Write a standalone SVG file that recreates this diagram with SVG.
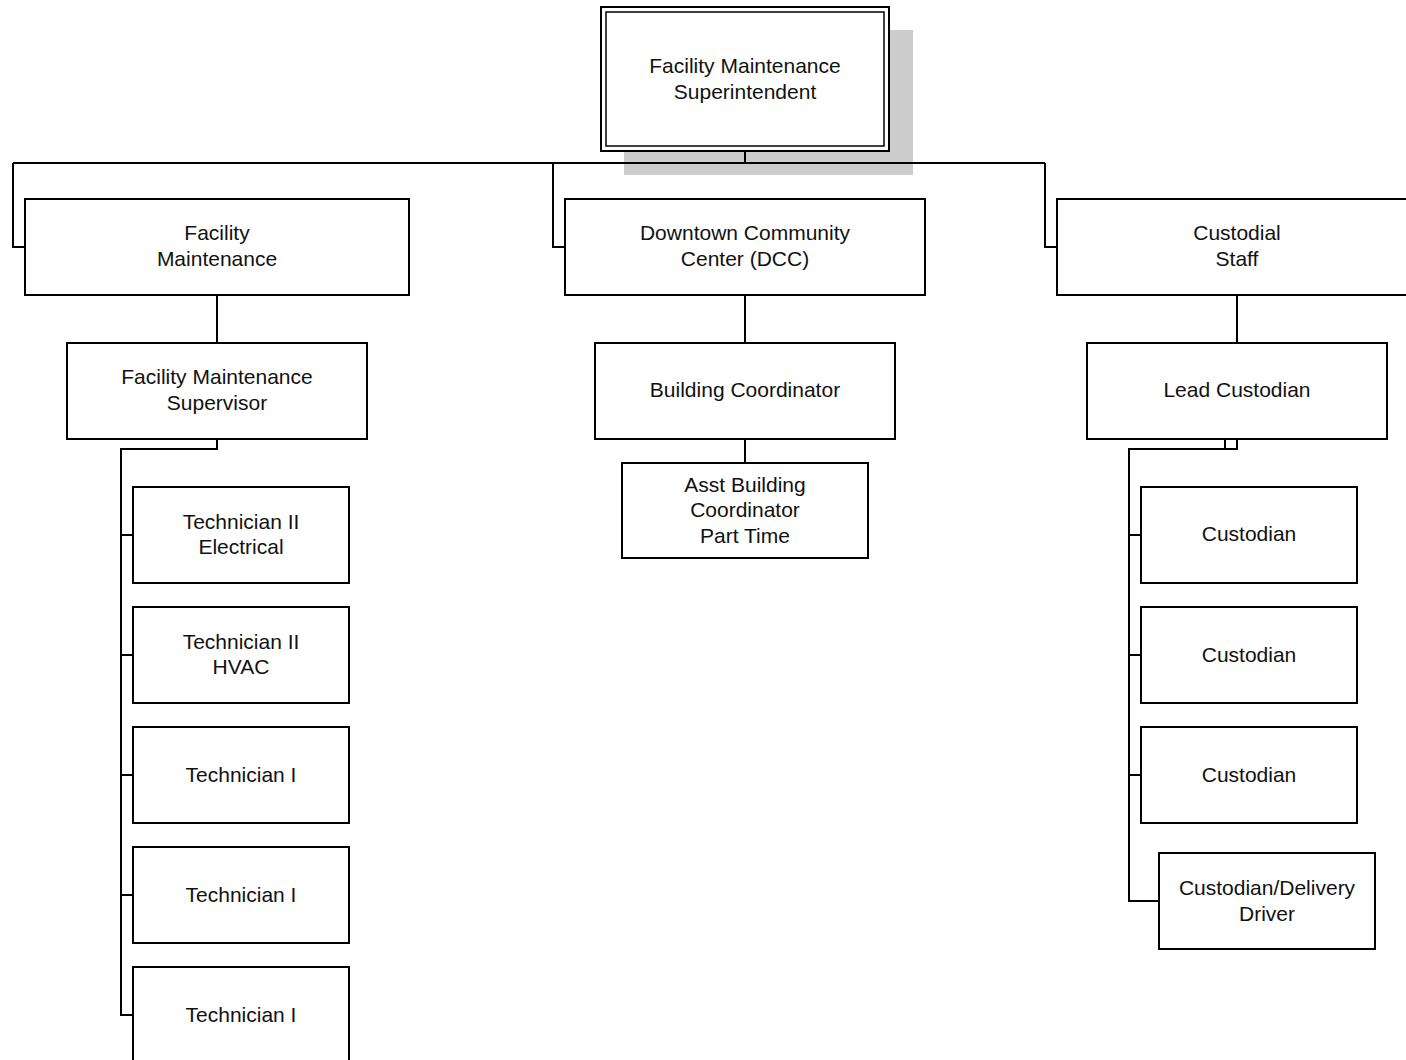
<svg xmlns="http://www.w3.org/2000/svg" width="1406" height="1060" viewBox="0 0 1406 1060">
<style>
.box{fill:#fff;stroke:#000;stroke-width:2}
.ln{fill:none;stroke:#000;stroke-width:2}
text{font-family:"Liberation Sans",Arial,sans-serif;font-size:21px;fill:#111;text-anchor:middle}
</style>
<rect width="1406" height="1060" fill="#fff"/>
<g id="superintendent">
<rect x="624" y="30" width="289" height="145" fill="#cccccc"/>
<rect x="601" y="7" width="288" height="144" fill="#fff" stroke="#000" stroke-width="2"/>
<rect x="606" y="12" width="278" height="134" fill="none" stroke="#000" stroke-width="1.5"/>
<text x="745" y="73">Facility Maintenance</text>
<text x="745" y="99">Superintendent</text>
</g>
<g id="connectors">
<line class="ln" x1="745" y1="151" x2="745" y2="163"/>
<line class="ln" x1="13" y1="163" x2="1045" y2="163"/>
<polyline class="ln" points="13,163 13,247 25,247"/>
<polyline class="ln" points="553,163 553,247 565,247"/>
<polyline class="ln" points="1045,163 1045,247 1057,247"/>
<line class="ln" x1="217" y1="295" x2="217" y2="343"/>
<line class="ln" x1="745" y1="295" x2="745" y2="343"/>
<line class="ln" x1="1237" y1="295" x2="1237" y2="343"/>
<polyline class="ln" points="217,439 217,449 121,449 121,1015 133,1015"/>
<line class="ln" x1="121" y1="535" x2="133" y2="535"/>
<line class="ln" x1="121" y1="655" x2="133" y2="655"/>
<line class="ln" x1="121" y1="775" x2="133" y2="775"/>
<line class="ln" x1="121" y1="895" x2="133" y2="895"/>
<line class="ln" x1="745" y1="439" x2="745" y2="463"/>
<polyline class="ln" points="1237,439 1237,449 1129,449 1129,901 1159,901"/>
<line class="ln" x1="1225" y1="439" x2="1225" y2="449"/>
<line class="ln" x1="1129" y1="535" x2="1141" y2="535"/>
<line class="ln" x1="1129" y1="655" x2="1141" y2="655"/>
<line class="ln" x1="1129" y1="775" x2="1141" y2="775"/>
</g>
<g id="facility-maintenance">
<rect class="box" x="25" y="199" width="384" height="96"/>
<text x="217" y="240">Facility</text>
<text x="217" y="266">Maintenance</text>
</g>
<g id="dcc">
<rect class="box" x="565" y="199" width="360" height="96"/>
<text x="745" y="240">Downtown Community</text>
<text x="745" y="266">Center (DCC)</text>
</g>
<g id="custodial-staff">
<rect class="box" x="1057" y="199" width="360" height="96"/>
<text x="1237" y="240">Custodial</text>
<text x="1237" y="266">Staff</text>
</g>
<g id="fm-supervisor">
<rect class="box" x="67" y="343" width="300" height="96"/>
<text x="217" y="384">Facility Maintenance</text>
<text x="217" y="410">Supervisor</text>
</g>
<g id="building-coordinator">
<rect class="box" x="595" y="343" width="300" height="96"/>
<text x="745" y="397">Building Coordinator</text>
</g>
<g id="lead-custodian">
<rect class="box" x="1087" y="343" width="300" height="96"/>
<text x="1237" y="397">Lead Custodian</text>
</g>
<g id="asst-building-coordinator">
<rect class="box" x="622" y="463" width="246" height="95"/>
<text x="745" y="492">Asst Building</text>
<text x="745" y="517">Coordinator</text>
<text x="745" y="543">Part Time</text>
</g>
<g id="tech-electrical">
<rect class="box" x="133" y="487" width="216" height="96"/>
<text x="241" y="529">Technician II</text>
<text x="241" y="554">Electrical</text>
</g>
<g id="tech-hvac">
<rect class="box" x="133" y="607" width="216" height="96"/>
<text x="241" y="649">Technician II</text>
<text x="241" y="674">HVAC</text>
</g>
<g id="tech-1a">
<rect class="box" x="133" y="727" width="216" height="96"/>
<text x="241" y="782">Technician I</text>
</g>
<g id="tech-1b">
<rect class="box" x="133" y="847" width="216" height="96"/>
<text x="241" y="902">Technician I</text>
</g>
<g id="tech-1c">
<rect class="box" x="133" y="967" width="216" height="96"/>
<text x="241" y="1022">Technician I</text>
</g>
<g id="custodian-1">
<rect class="box" x="1141" y="487" width="216" height="96"/>
<text x="1249" y="541">Custodian</text>
</g>
<g id="custodian-2">
<rect class="box" x="1141" y="607" width="216" height="96"/>
<text x="1249" y="662">Custodian</text>
</g>
<g id="custodian-3">
<rect class="box" x="1141" y="727" width="216" height="96"/>
<text x="1249" y="782">Custodian</text>
</g>
<g id="custodian-driver">
<rect class="box" x="1159" y="853" width="216" height="96"/>
<text x="1267" y="895">Custodian/Delivery</text>
<text x="1267" y="921">Driver</text>
</g>
</svg>
